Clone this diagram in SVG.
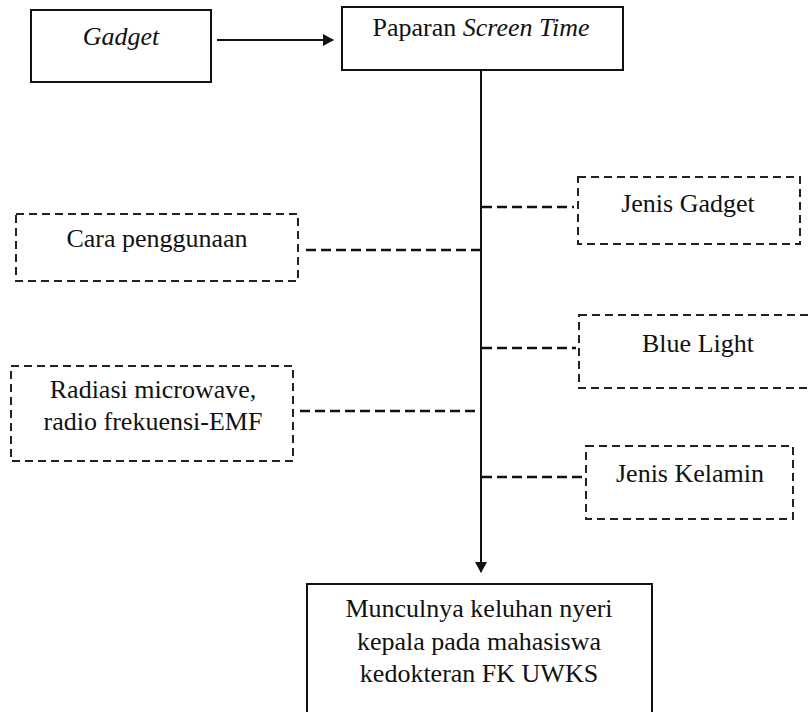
<svg xmlns="http://www.w3.org/2000/svg" width="809" height="712" viewBox="0 0 809 712">
<style>
text{font-family:"Liberation Serif","Times New Roman",serif;font-size:26px;fill:#111;text-anchor:middle}
.it{font-style:italic}
.solid{fill:#fff;stroke:#111;stroke-width:2}
.dash{fill:#fff;stroke:#222;stroke-width:2;stroke-dasharray:8 5}
.conn{stroke:#111;stroke-width:2.5;stroke-dasharray:10 5;fill:none}
.line{stroke:#111;stroke-width:2;fill:none}
</style>
<defs>
<marker id="ah" markerWidth="12" markerHeight="12" refX="10" refY="6" orient="auto" markerUnits="userSpaceOnUse">
<path d="M0,0 L11,6 L0,12 Z" fill="#111"/>
</marker>
</defs>
<rect width="809" height="712" fill="#fff"/>
<g id="connectors">
<line class="line" x1="217" y1="40" x2="333" y2="40" marker-end="url(#ah)"/>
<line class="line" x1="481" y1="71" x2="481" y2="572" marker-end="url(#ah)"/>
<line class="conn" x1="482" y1="207" x2="574" y2="207"/>
<line class="conn" x1="306" y1="250" x2="480" y2="250"/>
<line class="conn" x1="482" y1="348" x2="576" y2="348"/>
<line class="conn" x1="300" y1="411" x2="480" y2="411"/>
<line class="conn" x1="482" y1="477" x2="583" y2="477"/>
</g>
<g id="gadget">
<rect class="solid" x="31" y="10" width="180" height="72"/>
<text class="it" x="121" y="45">Gadget</text>
</g>
<g id="paparan">
<rect class="solid" x="342" y="7" width="281" height="63"/>
<text x="481" y="36">Paparan <tspan class="it">Screen Time</tspan></text>
</g>
<g id="cara">
<rect class="dash" x="16" y="214" width="282" height="67"/>
<text x="157" y="247">Cara penggunaan</text>
</g>
<g id="jenis-gadget">
<rect class="dash" x="578" y="177" width="222" height="67"/>
<text x="688" y="212">Jenis Gadget</text>
</g>
<g id="blue-light">
<rect class="dash" x="579" y="315" width="240" height="73"/>
<text x="698" y="352">Blue Light</text>
</g>
<g id="radiasi">
<rect class="dash" x="11" y="366" width="282" height="95"/>
<text x="153" y="398">Radiasi microwave,</text>
<text x="153" y="430">radio frekuensi-EMF</text>
</g>
<g id="jenis-kelamin">
<rect class="dash" x="586" y="446" width="207" height="73"/>
<text x="690" y="482">Jenis Kelamin</text>
</g>
<g id="keluhan">
<rect class="solid" x="307" y="584" width="345" height="140"/>
<text x="479" y="617">Munculnya keluhan nyeri</text>
<text x="479" y="650">kepala pada mahasiswa</text>
<text x="479" y="682">kedokteran FK UWKS</text>
</g>
</svg>
